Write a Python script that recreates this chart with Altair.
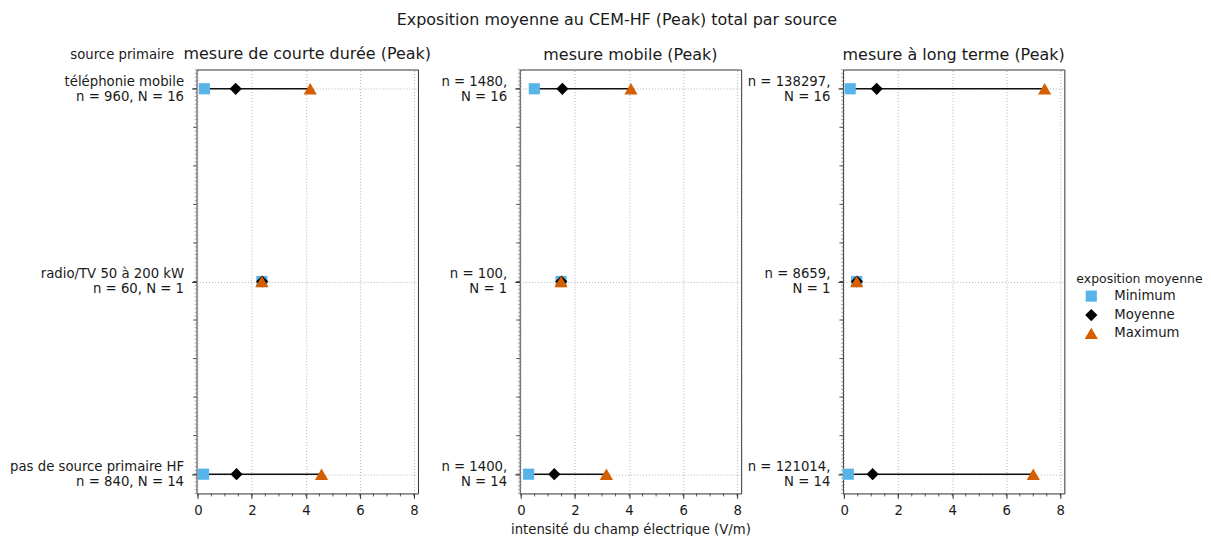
import json
import altair as alt
import pandas as pd

# ---------------- data ----------------
sources = ["téléphonie mobile", "radio/TV 50 à 200 kW", "pas de source primaire HF"]
source_pos = [0, 1, 2]
panels = ["mesure de courte durée (Peak)", "mesure mobile (Peak)", "mesure à long terme (Peak)"]
N_sites = [16, 1, 14]

n_courte = [960, 60, 840]
n_mobile = [1480, 100, 1400]
n_long = [138297, 8659, 121014]

min_courte = [0.24, 2.37, 0.21]
mean_courte = [1.40, 2.38, 1.43]
max_courte = [4.16, 2.37, 4.58]

min_mobile = [0.49, 1.48, 0.28]
mean_mobile = [1.53, 1.49, 1.23]
max_mobile = [4.07, 1.48, 3.16]

min_long = [0.22, 0.46, 0.15]
mean_long = [1.20, 0.47, 1.05]
max_long = [7.42, 0.46, 7.00]

stats = ["Minimum", "Moyenne", "Maximum"]
stat_colors = ["#56B4E9", "#000000", "#D55E00"]
stat_shapes = ["square", "diamond", "triangle-up"]
stat_sizes = [125, 175, 135]

x_ticks = [0, 2, 4, 6, 8]
x_minor_ticks = [0, 0.5, 1, 1.5, 2, 2.5, 3, 3.5, 4, 4.5, 5, 5.5, 6, 6.5, 7, 7.5, 8]
y_ticks = [0, 1, 2]
y_mid_ticks = [0, 0.2, 0.4, 0.6, 0.8, 1.0, 1.2, 1.4, 1.6, 1.8, 2.0]
y_tiny_ticks = [round(-0.1 + 0.02 * i, 2) for i in range(111)]

FONT = "DejaVu Sans"
TXT = "#1a1a1a"
FS = 13.3
W, H = 222, 425
X_DOM = [-0.05, 8.15]
Y_DOM = [-0.1, 2.1]


def label_expr(lines):
    expr = json.dumps(lines[2], ensure_ascii=False)
    for i in [1, 0]:
        expr = f"datum.value == {i} ? {json.dumps(lines[i], ensure_ascii=False)} : ({expr})"
    return expr


def panel(k, n_list, mins, means, maxs):
    rows = []
    for i, p in enumerate(source_pos):
        for s, v in zip(stats, [mins[i], means[i], maxs[i]]):
            rows.append({"pos": p, "stat": s, "value": v})
    pts = pd.DataFrame(rows)
    rng = pd.DataFrame({"pos": source_pos, "lo": mins, "hi": maxs})

    if k == 0:
        lines = [[sources[i], f"n = {n_list[i]}, N = {N_sites[i]}"] for i in range(3)]
    else:
        lines = [[f"n = {n_list[i]},", f"N = {N_sites[i]}"] for i in range(3)]

    xscale = alt.Scale(domain=X_DOM, nice=False, zero=False)
    yscale = alt.Scale(domain=Y_DOM, nice=False, zero=False, reverse=True)

    xaxis = alt.Axis(
        values=x_ticks, grid=True, gridDash=[1, 2], gridColor="#aaaaaa", gridWidth=0.9,
        domain=False, tickSize=5, tickColor="#333", labelFontSize=FS, labelColor=TXT,
        labelPadding=5, labelFlush=False,
        title="intensité du champ électrique (V/m)" if k == 1 else "",
        titleFontSize=FS, titleFontWeight="normal", titleColor=TXT, titlePadding=6,
    )
    yaxis = alt.Axis(
        values=y_ticks, grid=True, gridDash=[1, 2], gridColor="#aaaaaa", gridWidth=0.9,
        domain=False, tickSize=5, tickColor="#333", labelFontSize=FS, labelColor=TXT,
        labelPadding=8, labelExpr=label_expr(lines), labelLineHeight=15, labelOffset=-7.5,
        labelAlign="right", labelBaseline="middle",
        title="source primaire" if k == 0 else "",
        titleAngle=0, titleAlign="right", titleBaseline="middle",
        titleX=-23, titleY=-15.5, titleFontSize=FS, titleFontWeight="normal", titleColor=TXT,
    )

    line = alt.Chart(rng).mark_rule(color="#111", strokeWidth=1.5).encode(
        x=alt.X("lo:Q", scale=xscale, axis=xaxis),
        x2="hi:Q",
        y=alt.Y("pos:Q", scale=yscale, axis=yaxis),
    )
    xminor = alt.Chart(pd.DataFrame({"t": x_minor_ticks})).mark_rule(color="#333", strokeWidth=0.8).encode(
        x=alt.X("t:Q", scale=xscale, axis=xaxis), y=alt.value(H), y2=alt.value(H + 3)
    )
    ymid = alt.Chart(pd.DataFrame({"t": y_mid_ticks})).mark_rule(color="#333", strokeWidth=0.8).encode(
        y=alt.Y("t:Q", scale=yscale, axis=yaxis), x=alt.value(0), x2=alt.value(-3.5)
    )
    ytiny = alt.Chart(pd.DataFrame({"t": y_tiny_ticks})).mark_rule(color="#666", strokeWidth=0.6).encode(
        y=alt.Y("t:Q", scale=yscale, axis=yaxis), x=alt.value(0), x2=alt.value(-1.8)
    )
    leg = alt.Legend(
        orient="none", legendX=882, legendY=204, title="exposition moyenne",
        titleFontSize=12.5, titleFontWeight="normal", titleColor=TXT,
        labelFontSize=FS, labelColor=TXT, symbolSize=110, symbolOffset=8,
        labelOffset=16, rowPadding=5, titlePadding=4, symbolStrokeWidth=0)
    points = alt.Chart(pts).mark_point(filled=True, opacity=1, strokeWidth=0).encode(
        x=alt.X("value:Q", scale=xscale, axis=xaxis),
        y=alt.Y("pos:Q", scale=yscale, axis=yaxis),
        color=alt.Color("stat:N", sort=stats, scale=alt.Scale(domain=stats, range=stat_colors), legend=leg),
        shape=alt.Shape("stat:N", sort=stats, scale=alt.Scale(domain=stats, range=stat_shapes), legend=leg),
        size=alt.Size("stat:N", scale=alt.Scale(domain=stats, range=stat_sizes), legend=None),
    )
    return alt.layer(line, ytiny, ymid, xminor, points).properties(
        width=W, height=H,
        title=alt.TitleParams(panels[k], fontSize=16, fontWeight="normal", color=TXT,
                              offset=6.5, frame="group", dy=21 if k == 0 else 0),
    )


p1 = panel(0, n_courte, min_courte, mean_courte, max_courte)
p2 = panel(1, n_mobile, min_mobile, mean_mobile, max_mobile)
p3 = panel(2, n_long, min_long, mean_long, max_long)

chart = alt.hconcat(p1, p2, p3, spacing=102, bounds="flush").properties(
    title=alt.TitleParams("Exposition moyenne au CEM-HF (Peak) total par source",
                          fontSize=16, fontWeight="normal", color=TXT, anchor="middle",
                          offset=17, dx=11),
    padding={"left": 0, "top": 3, "right": 0, "bottom": 5},
).configure(font=FONT).configure_view(stroke="#333", strokeWidth=1)

chart.save("out.html", embed_options={"renderer": "svg", "actions": False})
